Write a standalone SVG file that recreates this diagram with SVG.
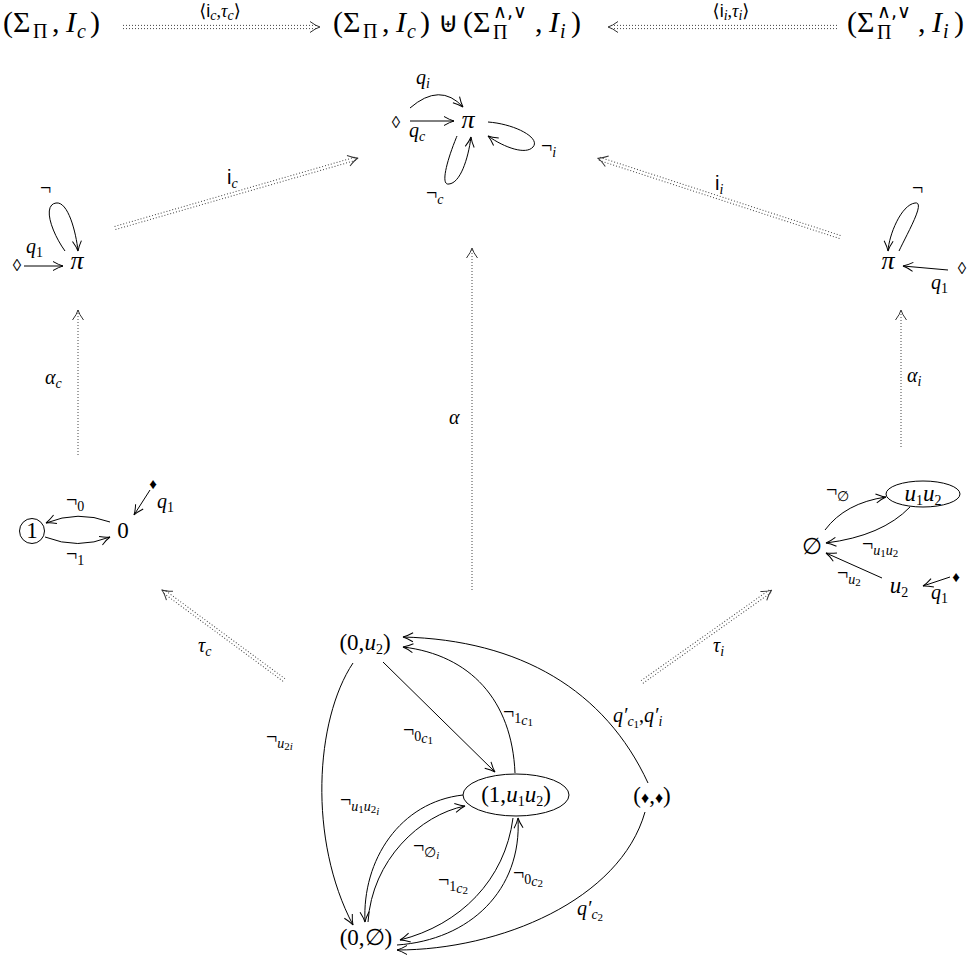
<svg xmlns="http://www.w3.org/2000/svg" width="970" height="965" viewBox="0 0 970 965">
<style>
text{font-family:"Liberation Serif","DejaVu Serif",serif;fill:#000}
.big{font-size:30px}
.s{font-size:20px}
.n{font-size:23px}
.l{font-size:20px}
.it{font-style:italic}
.up{font-style:normal}
.sb{font-size:14px}
.ss{font-size:11px}
.sf{font-family:"Liberation Sans","DejaVu Sans",sans-serif}
.sym{font-family:"DejaVu Sans",sans-serif}
.e{fill:none;stroke:#000;stroke-width:1}
.d{fill:none;stroke:#444;stroke-width:1;stroke-dasharray:1 2}
.h{fill:none;stroke:none}
</style>
<defs>
<marker id="ah" viewBox="-12 -6 13 12" refX="0" refY="0" markerWidth="13" markerHeight="12" markerUnits="userSpaceOnUse" orient="auto"><path d="M-10,-4.5 Q-4,-1 0,0 Q-4,1 -10,4.5" fill="none" stroke="#000" stroke-width="1"/></marker>
<marker id="ad" viewBox="-12 -7 13 14" refX="0" refY="0" markerWidth="13" markerHeight="14" markerUnits="userSpaceOnUse" orient="auto"><path d="M-10,-5.5 Q-4,-1 0,0 Q-4,1 -10,5.5" fill="none" stroke="#333" stroke-width="1"/></marker>
</defs>

<!-- top row -->
<g id="top-left">
<text class="big" y="32"><tspan x="3">(Σ</tspan><tspan x="33" dy="6" class="s">Π</tspan><tspan x="52" dy="-6">,</tspan><tspan x="66" class="it">I</tspan><tspan x="77" dy="6" class="s it">c</tspan><tspan x="90" dy="-6">)</tspan></text>
</g>
<g id="top-mid">
<text class="big" y="32"><tspan x="333">(Σ</tspan><tspan x="363" dy="6" class="s">Π</tspan><tspan x="382" dy="-6">,</tspan><tspan x="396" class="it">I</tspan><tspan x="407" dy="6" class="s it">c</tspan><tspan x="420" dy="-6">)</tspan><tspan x="438" class="sym" style="font-size:28px">⊎</tspan><tspan x="463">(Σ</tspan><tspan x="535">,</tspan><tspan x="549" class="it">I</tspan><tspan x="560" dy="6" class="s it">i</tspan><tspan x="571" dy="-6">)</tspan></text>
<text class="s" x="493" y="39">Π</text>
<text class="s sym" x="493" y="18" style="font-size:19px">∧,∨</text>
</g>
<g id="top-right">
<text class="big" y="32"><tspan x="847">(Σ</tspan><tspan x="918">,</tspan><tspan x="932" class="it">I</tspan><tspan x="943" dy="6" class="s it">i</tspan><tspan x="954" dy="-6">)</tspan></text>
<text class="s" x="877" y="39">Π</text>
<text class="s sym" x="877" y="18" style="font-size:19px">∧,∨</text>
</g>

<!-- top centre automaton -->
<g id="pi-center">
<text class="it" style="font-size:26px" x="468" y="128" text-anchor="middle">π</text>
<text style="font-size:17px" x="396" y="128" text-anchor="middle">◊</text>
<text class="l it" x="416" y="84">q<tspan dy="4" class="sb">i</tspan></text>
<text class="l it" x="409" y="137">q<tspan dy="4" class="sb">c</tspan></text>
<text class="l" x="541" y="153">¬<tspan dy="4" class="sb it">i</tspan></text>
<text class="l" x="426" y="200">¬<tspan dy="4" class="sb it">c</tspan></text>
</g>

<!-- left pi -->
<g id="pi-left">
<text class="it" style="font-size:26px" x="77" y="269" text-anchor="middle">π</text>
<text style="font-size:17px" x="17" y="271" text-anchor="middle">◊</text>
<text class="l it" x="26" y="253">q<tspan dy="4" class="sb up">1</tspan></text>
<text class="l" x="40" y="195">¬</text>
</g>

<!-- right pi -->
<g id="pi-right">
<text class="it" style="font-size:26px" x="888" y="269" text-anchor="middle">π</text>
<text style="font-size:17px" x="962" y="274" text-anchor="middle">◊</text>
<text class="l it" x="931" y="289">q<tspan dy="4" class="sb up">1</tspan></text>
<text class="l" x="912" y="195">¬</text>
</g>

<!-- left automaton -->
<g id="aut-left">
<circle cx="32" cy="531" r="12.5" class="e"/>
<text class="n" x="32" y="538" text-anchor="middle">1</text>
<text class="n" x="123" y="538" text-anchor="middle">0</text>
<text style="font-size:15px" x="153" y="489" text-anchor="middle">♦</text>
<text class="l it" x="157" y="508">q<tspan dy="4" class="sb up">1</tspan></text>
<text class="l" x="66" y="507">¬<tspan dy="4" class="sb">0</tspan></text>
<text class="l" x="66" y="561">¬<tspan dy="4" class="sb">1</tspan></text>
</g>

<!-- right automaton -->
<g id="aut-right">
<ellipse cx="923" cy="494" rx="37" ry="13" class="e"/>
<text class="n it" x="923" y="501" text-anchor="middle">u<tspan dy="4" class="sb up">1</tspan><tspan dy="-4">u</tspan><tspan dy="4" class="sb up">2</tspan></text>
<text class="n" x="812" y="554" text-anchor="middle">∅</text>
<text class="n it" x="899" y="593" text-anchor="middle">u<tspan dy="4" class="sb up">2</tspan></text>
<text style="font-size:15px" x="956" y="582" text-anchor="middle">♦</text>
<text class="l it" x="931" y="599">q<tspan dy="4" class="sb up">1</tspan></text>
<text class="l" x="826" y="497">¬<tspan dy="4" class="sb">∅</tspan></text>
<text class="l" x="862" y="551">¬<tspan dy="4" class="sb it">u</tspan><tspan dy="2" class="ss">1</tspan><tspan dy="-2" class="sb it">u</tspan><tspan dy="2" class="ss">2</tspan></text>
<text class="l" x="837" y="580">¬<tspan dy="4" class="sb it">u</tspan><tspan dy="2" class="ss">2</tspan></text>
</g>

<!-- bottom automaton -->
<g id="n-0u2">
<text class="n" x="365" y="650" text-anchor="middle">(0,<tspan class="it">u</tspan><tspan dy="4" class="sb">2</tspan><tspan dy="-4">)</tspan></text>
</g>
<g id="n-1u1u2">
<ellipse cx="516" cy="795" rx="53" ry="21" class="e"/>
<text class="n" x="516" y="802" text-anchor="middle">(1,<tspan class="it">u</tspan><tspan dy="4" class="sb">1</tspan><tspan dy="-4" class="it">u</tspan><tspan dy="4" class="sb">2</tspan><tspan dy="-4">)</tspan></text>
</g>
<g id="n-dd">
<text class="n" x="652" y="803" text-anchor="middle">(<tspan style="font-size:16px">♦</tspan>,<tspan style="font-size:16px">♦</tspan>)</text>
</g>
<g id="n-0e">
<text class="n" x="366" y="945" text-anchor="middle">(0,∅)</text>
</g>

<!-- labels bottom -->
<g id="labels-bottom">
<text class="l" x="266" y="744">¬<tspan dy="4" class="sb it">u</tspan><tspan dy="2" class="ss">2</tspan><tspan class="ss it">i</tspan></text>
<text class="l" x="403" y="737">¬<tspan dy="4" class="sb">0</tspan><tspan dy="2" class="sb it">c</tspan><tspan dy="1" class="ss">1</tspan></text>
<text class="l" x="503" y="719">¬<tspan dy="4" class="sb">1</tspan><tspan dy="2" class="sb it">c</tspan><tspan dy="1" class="ss">1</tspan></text>
<text class="l it" x="613" y="722">q′<tspan dy="4" class="sb">c</tspan><tspan dy="2" class="ss up">1</tspan><tspan dy="-6" class="up">,</tspan>q′<tspan dy="4" class="sb">i</tspan></text>
<text class="l" x="340" y="807">¬<tspan dy="4" class="sb it">u</tspan><tspan dy="2" class="ss">1</tspan><tspan dy="-2" class="sb it">u</tspan><tspan dy="2" class="ss">2</tspan><tspan dy="2" class="ss it">i</tspan></text>
<text class="l" x="413" y="853">¬<tspan dy="4" class="sb">∅</tspan><tspan dy="2" class="ss it">i</tspan></text>
<text class="l" x="438" y="887">¬<tspan dy="4" class="sb">1</tspan><tspan dy="2" class="sb it">c</tspan><tspan dy="1" class="ss">2</tspan></text>
<text class="l" x="513" y="880">¬<tspan dy="4" class="sb">0</tspan><tspan dy="2" class="sb it">c</tspan><tspan dy="1" class="ss">2</tspan></text>
<text class="l it" x="577" y="915">q′<tspan dy="4" class="sb">c</tspan><tspan dy="2" class="ss up">2</tspan></text>
</g>

<!-- morphism labels -->
<g id="labels-morph">
<text class="l" x="220" y="17" text-anchor="middle" style="font-size:18px"><tspan class="sym">⟨</tspan><tspan class="sf">i</tspan><tspan dy="3" class="it sb">c</tspan><tspan dy="-3">,</tspan><tspan class="it">τ</tspan><tspan dy="3" class="it sb">c</tspan><tspan dy="-3" class="sym">⟩</tspan></text>
<text class="l" x="731" y="17" text-anchor="middle" style="font-size:18px"><tspan class="sym">⟨</tspan><tspan class="sf">i</tspan><tspan dy="3" class="it sb">i</tspan><tspan dy="-3">,</tspan><tspan class="it">τ</tspan><tspan dy="3" class="it sb">i</tspan><tspan dy="-3" class="sym">⟩</tspan></text>
<text class="l sf" x="227" y="184">i<tspan dy="4" class="it sb" style="font-family:'Liberation Serif',serif">c</tspan></text>
<text class="l sf" x="715" y="190">i<tspan dy="4" class="it sb" style="font-family:'Liberation Serif',serif">i</tspan></text>
<text class="l it" x="45" y="384">α<tspan dy="4" class="sb">c</tspan></text>
<text class="l it" x="449" y="424">α</text>
<text class="l it" x="907" y="382">α<tspan dy="4" class="sb">i</tspan></text>
<text class="l it" x="198" y="652">τ<tspan dy="4" class="sb">c</tspan></text>
<text class="l it" x="713" y="652">τ<tspan dy="4" class="sb">i</tspan></text>
</g>

<g id="connectors">
<!-- double dotted morphisms -->
<g transform="translate(123,27)"><line x1="0" y1="-1.6" x2="195" y2="-1.6" class="d"/><line x1="0" y1="1.6" x2="195" y2="1.6" class="d"/><path d="M0,0 L197,0" class="h" marker-end="url(#ad)"/></g>
<g transform="translate(837,27) rotate(180)"><line x1="0" y1="-1.6" x2="227" y2="-1.6" class="d"/><line x1="0" y1="1.6" x2="227" y2="1.6" class="d"/><path d="M0,0 L229,0" class="h" marker-end="url(#ad)"/></g>
<g transform="translate(115,228) rotate(-16.07)"><line x1="0" y1="-1.6" x2="251" y2="-1.6" class="d"/><line x1="0" y1="1.6" x2="251" y2="1.6" class="d"/><path d="M0,0 L253,0" class="h" marker-end="url(#ad)"/></g>
<g transform="translate(840,237) rotate(-162)"><line x1="0" y1="-1.6" x2="253" y2="-1.6" class="d"/><line x1="0" y1="1.6" x2="253" y2="1.6" class="d"/><path d="M0,0 L255,0" class="h" marker-end="url(#ad)"/></g>
<g transform="translate(284,680) rotate(-143.6)"><line x1="0" y1="-1.6" x2="150" y2="-1.6" class="d"/><line x1="0" y1="1.6" x2="150" y2="1.6" class="d"/><path d="M0,0 L152,0" class="h" marker-end="url(#ad)"/></g>
<g transform="translate(642,682) rotate(-35.3)"><line x1="0" y1="-1.6" x2="157" y2="-1.6" class="d"/><line x1="0" y1="1.6" x2="157" y2="1.6" class="d"/><path d="M0,0 L159,0" class="h" marker-end="url(#ad)"/></g>
<!-- single dotted -->
<path d="M78,455 L78,310" class="d" marker-end="url(#ad)"/>
<path d="M472,590 L472,248" class="d" marker-end="url(#ad)"/>
<path d="M901,447 L901,310" class="d" marker-end="url(#ad)"/>

<!-- top centre -->
<path d="M410,108 Q440,82 463,107" class="e" marker-end="url(#ah)"/>
<path d="M410,121 L454,121" class="e" marker-end="url(#ah)"/>
<path d="M488,122 C515,124 541,138 533,147 C526,155 505,148 488,136" class="e" marker-end="url(#ah)"/>
<path d="M457,136 C447,160 440,186 449,184 C460,183 468,160 471,137" class="e" marker-end="url(#ah)"/>
<!-- left pi -->
<path d="M24,266 L63,266" class="e" marker-end="url(#ah)"/>
<path d="M65,251 C52,233 42,205 56,203 C68,201 76,232 78,251" class="e" marker-end="url(#ah)"/>
<!-- right pi -->
<path d="M948,270 L903,266" class="e" marker-end="url(#ah)"/>
<path d="M899,251 C908,232 926,201 915,203 C901,205 889,235 888,251" class="e" marker-end="url(#ah)"/>
<!-- left automaton -->
<path d="M110,522 Q78,510 46,523" class="e" marker-end="url(#ah)"/>
<path d="M45,537 Q78,550 110,537" class="e" marker-end="url(#ah)"/>
<path d="M150,490 L134,515" class="e" marker-end="url(#ah)"/>
<!-- right automaton -->
<path d="M825,530 Q845,503 886,497" class="e" marker-end="url(#ah)"/>
<path d="M910,507 Q882,536 826,543" class="e" marker-end="url(#ah)"/>
<path d="M882,578 L826,553" class="e" marker-end="url(#ah)"/>
<path d="M950,577 L923,586" class="e" marker-end="url(#ah)"/>
<!-- bottom automaton -->
<path d="M353,663 C315,720 308,840 353,925" class="e" marker-end="url(#ah)"/>
<path d="M383,662 L495,772" class="e" marker-end="url(#ah)"/>
<path d="M515,773 C512,700 470,655 403,647" class="e" marker-end="url(#ah)"/>
<path d="M648,783 C605,690 520,640 403,637" class="e" marker-end="url(#ah)"/>
<path d="M463,795 C400,802 362,860 365,922" class="e" marker-end="url(#ah)"/>
<path d="M368,922 C372,860 420,815 465,806" class="e" marker-end="url(#ah)"/>
<path d="M513,818 C505,880 460,925 400,940" class="e" marker-end="url(#ah)"/>
<path d="M397,945 C470,940 522,890 518,818" class="e" marker-end="url(#ah)"/>
<path d="M645,812 C620,900 500,950 397,950" class="e" marker-end="url(#ah)"/>
</g>
</svg>
